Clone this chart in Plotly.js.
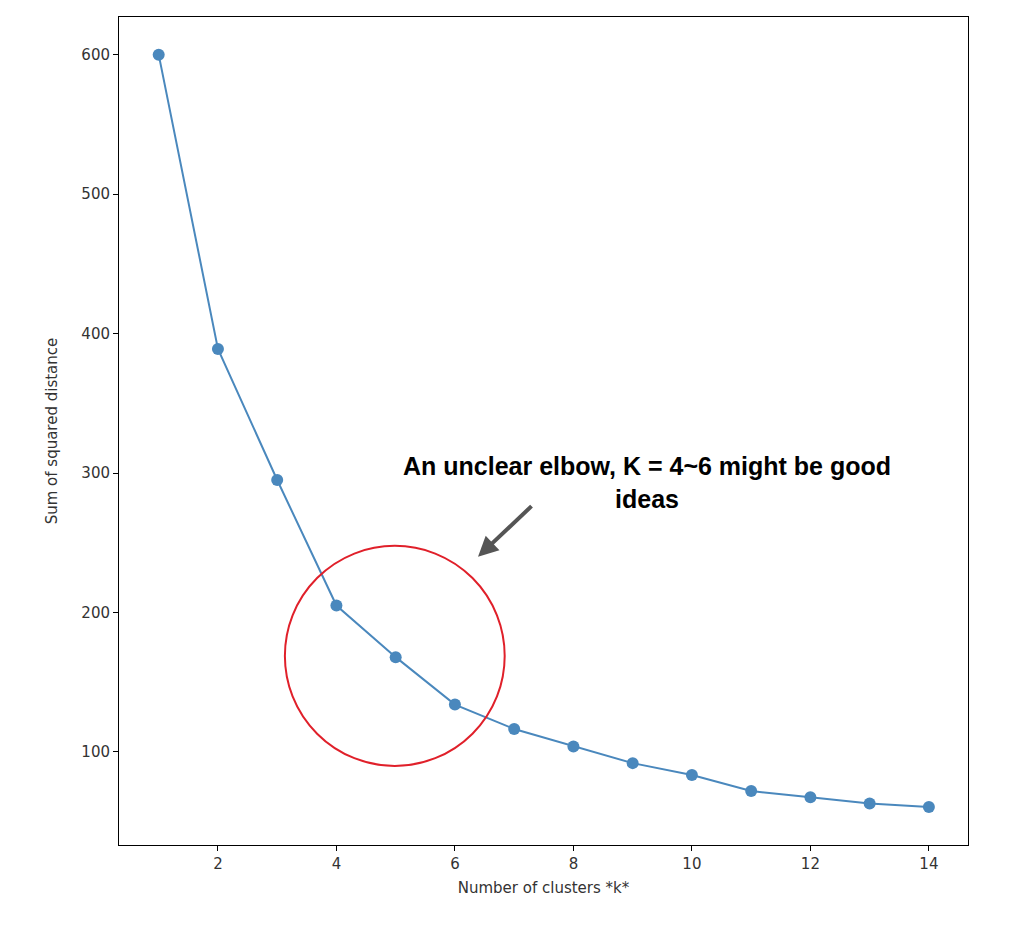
<!DOCTYPE html>
<html>
<head>
<meta charset="utf-8">
<script src="https://cdn.plot.ly/plotly-3.0.1.min.js"></script>
<style>body{margin:0;background:#fff}</style>
</head>
<body>
<div id="plot" style="width:1014px;height:928px"></div>
<script>
const clusters = [1, 2, 3, 4, 5, 6, 7, 8, 9, 10, 11, 12, 13, 14];
const sse = [600, 389, 295, 205, 168, 134, 116.5, 104, 92, 83.5, 72, 67.5, 63, 60.5];

const axisStyle = {
  showline: true,
  mirror: true,
  linecolor: '#000',
  linewidth: 1,
  ticks: 'outside',
  ticklen: 5,
  tickcolor: '#000',
  showgrid: false,
  zeroline: false,
  tickfont: { family: 'DejaVu Sans', size: 15, color: '#333' },
};

const trace = {
  x: clusters,
  y: sse,
  mode: 'lines+markers',
  type: 'scatter',
  line: { color: '#4a88bd', width: 2 },
  marker: { color: '#4a88bd', size: 12 },
};

const layout = {
  width: 1014,
  height: 928,
  margin: { l: 119, r: 46, t: 17, b: 83 },
  paper_bgcolor: '#fff',
  plot_bgcolor: '#fff',
  showlegend: false,
  xaxis: Object.assign({}, axisStyle, {
    range: [0.33, 14.66],
    tickvals: [2, 4, 6, 8, 10, 12, 14],
    title: { text: 'Number of clusters *k*', font: { family: 'DejaVu Sans', size: 15, color: '#333' }, standoff: 10 },
  }),
  yaxis: Object.assign({}, axisStyle, {
    range: [33.3, 627],
    tickvals: [100, 200, 300, 400, 500, 600],
    title: { text: 'Sum of squared distance', font: { family: 'DejaVu Sans', size: 15, color: '#333' }, standoff: 20 },
  }),
  shapes: [
    {
      type: 'circle', xref: 'x', yref: 'y',
      x0: 3.13, x1: 6.84, y0: 90, y1: 247.8,
      line: { color: '#e0202a', width: 2 },
    },
  ],
  annotations: [
    {
      x: 6.39, y: 240, xref: 'x', yref: 'y',
      ax: 55, ay: -52, showarrow: true,
      arrowhead: 2, arrowsize: 1, arrowwidth: 4, arrowcolor: '#555',
      text: '',
    },
    {
      x: 9.25, y: 293, xref: 'x', yref: 'y', showarrow: false,
      text: 'An unclear elbow, K = 4~6 might be good<br>ideas',
      align: 'center',
      font: { family: 'Liberation Sans', size: 25, color: '#000', weight: 'bold' },
    },
  ],
};

Plotly.newPlot('plot', [trace], layout, { displayModeBar: false });
</script>
</body>
</html>
